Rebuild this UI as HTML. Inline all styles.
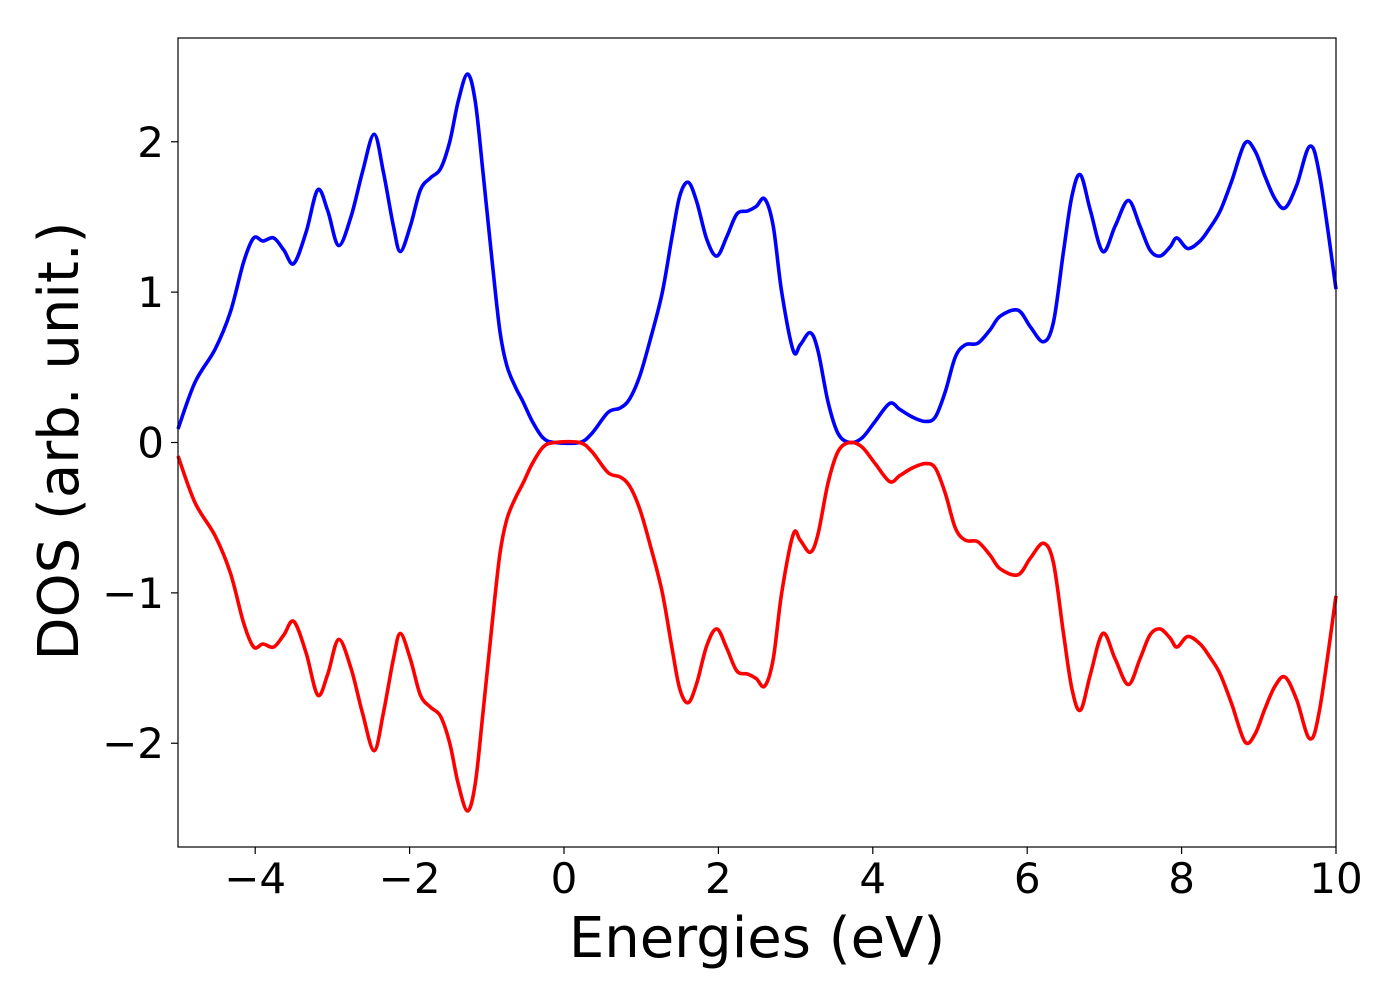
<!DOCTYPE html>
<html><head><meta charset="utf-8"><style>
body{margin:0;background:#fff;}
svg text{font-family:"DejaVu Sans","Liberation Sans",sans-serif;fill:#000;}
</style></head><body>
<svg id="chart" width="1400" height="1000" xmlns="http://www.w3.org/2000/svg">
<rect width="1400" height="1000" fill="#fff"/>
<g id="series"></g>
<rect x="178" y="38" width="1158" height="809" fill="none" stroke="#000" stroke-width="1.2"/>
<g id="axes"></g>
<text x="757" y="957" font-size="56" text-anchor="middle">Energies (eV)</text>
<text transform="translate(78,441) rotate(-90)" font-size="56" text-anchor="middle">DOS (arb. unit.)</text>
</svg>
<script>
const energies=[-5,-4.78,-4.52,-4.32,-4.15,-4.02,-3.9,-3.76,-3.63,-3.5,-3.34,-3.19,-3.06,-2.92,-2.76,-2.61,-2.46,-2.34,-2.21,-2.12,-1.99,-1.86,-1.73,-1.6,-1.48,-1.37,-1.25,-1.15,-1.05,-0.93,-0.83,-0.74,-0.63,-0.53,-0.41,-0.27,-0.12,0.2,0.36,0.57,0.73,0.85,0.98,1.11,1.27,1.4,1.5,1.61,1.72,1.85,1.98,2.11,2.24,2.38,2.49,2.6,2.71,2.82,2.97,3.06,3.19,3.29,3.42,3.55,3.7,3.86,4.03,4.22,4.35,4.51,4.68,4.81,4.94,5.07,5.2,5.36,5.52,5.65,5.88,6.04,6.21,6.34,6.47,6.58,6.69,6.82,6.98,7.14,7.31,7.46,7.59,7.72,7.85,7.94,8.08,8.24,8.37,8.5,8.65,8.82,8.95,9.08,9.21,9.34,9.49,9.66,9.79,10];
const dosUp=[0.09,0.4,0.62,0.87,1.2,1.36,1.34,1.36,1.28,1.19,1.4,1.68,1.54,1.31,1.5,1.8,2.05,1.8,1.44,1.27,1.44,1.68,1.76,1.82,2.0,2.27,2.45,2.27,1.8,1.2,0.74,0.51,0.37,0.27,0.14,0.03,0.0,0.0,0.06,0.2,0.23,0.29,0.44,0.67,0.99,1.37,1.64,1.73,1.6,1.35,1.24,1.37,1.52,1.54,1.57,1.62,1.44,1.0,0.61,0.65,0.73,0.61,0.27,0.06,0.0,0.03,0.14,0.26,0.22,0.17,0.14,0.17,0.34,0.57,0.65,0.66,0.75,0.84,0.88,0.77,0.67,0.8,1.27,1.64,1.78,1.54,1.27,1.44,1.61,1.44,1.28,1.24,1.3,1.36,1.29,1.34,1.43,1.54,1.74,1.99,1.94,1.77,1.62,1.56,1.71,1.97,1.77,1.02];
const dosDown=dosUp.map(v=>-v);
const xTicks=[-4,-2,0,2,4,6,8,10];
const yTicks=[-2,-1,0,1,2];
const X0=178,X1=1336,Y0=847,Y1=38,xmin=-5,xmax=10,ymin=-2.69,ymax=2.69;
const sx=v=>X0+(v-xmin)/(xmax-xmin)*(X1-X0);
const sy=v=>Y0-(v-ymin)/(ymax-ymin)*(Y0-Y1);
const NS="http://www.w3.org/2000/svg";
function pathFor(xs,ys){
  const p=xs.map((x,i)=>[sx(x),sy(ys[i])]);
  let d=`M${p[0][0]},${p[0][1]}`;
  for(let i=0;i<p.length-1;i++){
    const a=p[Math.max(0,i-1)],b=p[i],c=p[i+1],e=p[Math.min(p.length-1,i+2)];
    const c1=[b[0]+(c[0]-a[0])/6,b[1]+(c[1]-a[1])/6],c2=[c[0]-(e[0]-b[0])/6,c[1]-(e[1]-b[1])/6];
    d+=` C${c1[0]},${c1[1]} ${c2[0]},${c2[1]} ${c[0]},${c[1]}`;
  }
  return d;
}
const g=document.getElementById('series');
[[dosUp,'#0000ff','spin-up-line'],[dosDown,'#ff0000','spin-down-line']].forEach(([ys,col,nm])=>{
  const el=document.createElementNS(NS,'path');
  el.setAttribute('d',pathFor(energies,ys));
  el.setAttribute('fill','none');el.setAttribute('stroke',col);el.setAttribute('stroke-width','3.6');
  
  
  g.appendChild(el);
});
const ax=document.getElementById('axes');
const fmt=v=>(v<0?'\u2212':'')+Math.abs(v);
xTicks.forEach(v=>{
  const l=document.createElementNS(NS,'line');
  l.setAttribute('x1',sx(v));l.setAttribute('x2',sx(v));l.setAttribute('y1',Y0);l.setAttribute('y2',Y0+7);l.setAttribute('stroke','#000');l.setAttribute('stroke-width','1.2');
  
  
  ax.appendChild(l);
  const t=document.createElementNS(NS,'text');
  t.setAttribute('x',sx(v));t.setAttribute('y',893);t.setAttribute('font-size','42');t.setAttribute('text-anchor','middle');
  t.textContent=fmt(v);
  
  
  ax.appendChild(t);
});
yTicks.forEach(v=>{
  const l=document.createElementNS(NS,'line');
  l.setAttribute('x1',X0-7);l.setAttribute('x2',X0);l.setAttribute('y1',sy(v));l.setAttribute('y2',sy(v));l.setAttribute('stroke','#000');l.setAttribute('stroke-width','1.2');
  
  
  ax.appendChild(l);
  const t=document.createElementNS(NS,'text');
  t.setAttribute('x',164);t.setAttribute('y',sy(v)+15);t.setAttribute('font-size','42');t.setAttribute('text-anchor','end');
  t.textContent=fmt(v);
  
  
  ax.appendChild(t);
});
</script>
</body></html>
